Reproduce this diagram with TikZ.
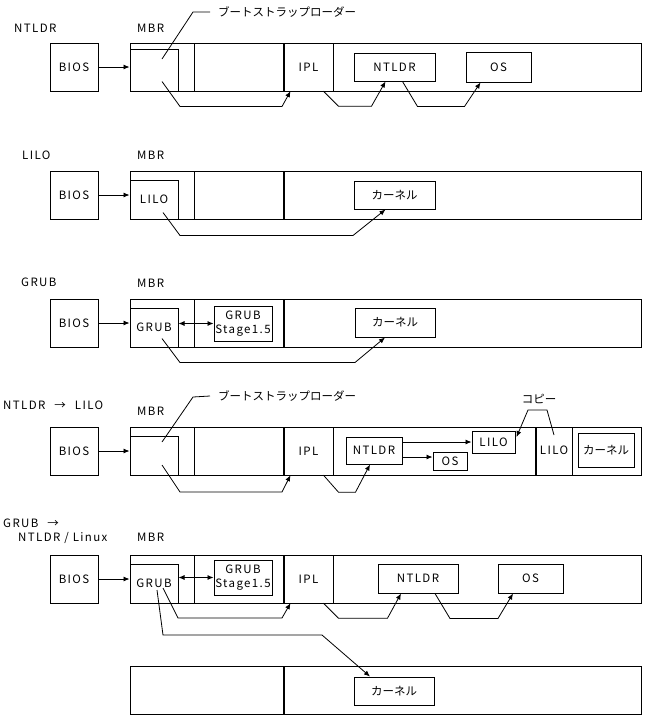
\documentclass[tikz,border=0pt]{standalone}
\usepackage{fontspec}
\setmainfont{Noto Sans CJK JP}[LetterSpace=12]
\newfontfamily\jpfont{Noto Sans CJK JP}
\usetikzlibrary{arrows.meta,positioning,calc}
\definecolor{Ink}{HTML}{000000}
\tikzset{
  box/.style={draw=Ink,line width=1pt,inner sep=0pt,text=Ink,align=center},
  biosbox/.style={box,minimum width=48pt,minimum height=48pt},
  diskbox/.style={box,minimum width=511pt,minimum height=48pt},
  innerbox/.style={box,minimum width=48pt,minimum height=39pt},
  stagebox/.style={box,minimum width=58pt,minimum height=35pt},
  iplslot/.style={inner sep=0pt,minimum width=49pt,minimum height=48pt,text=Ink},
  lbl/.style={anchor=west,inner sep=0pt,text=Ink},
  jp/.style={font=\jpfont\fontsize{11.5}{14}\selectfont},
  divider/.style={draw=Ink,line width=1pt},
  heavyDivider/.style={draw=Ink,line width=2.4pt},
  leader/.style={draw=Ink,line width=0.8pt},
  arrow/.style={-{Latex[length=6pt,width=5pt]},line width=0.8pt,draw=Ink},
  twoArrow/.style={{Latex[length=6pt,width=5pt]}-{Latex[length=6pt,width=5pt]},line width=0.8pt,draw=Ink}
}
\begin{document}
\begin{tikzpicture}[x=1pt,y=-1pt,font=\fontsize{11.5}{14}\selectfont]
\useasboundingbox (0,0) rectangle (651,721);
% NTLDR
\node[lbl] (t1) at (14,28) {NTLDR};
\node[lbl] (m1) at (137,28) {MBR};
\node[lbl,jp] (bsl1) at (218,12) {ブートストラップローダー};
\node[biosbox] (bios1) at (74,67) {BIOS};
\node[diskbox] (disk1) at (385.5,67) {};
\node[box,minimum width=48pt,minimum height=42pt] (boot1) at (154,70) {};
\draw[divider] (194,43)--(194,91);\draw[heavyDivider] (284,43)--(284,91);\draw[divider] (333,43)--(333,91);
\node[iplslot] (ipl1) at (308.5,67) {IPL};
\node[box,minimum width=81pt,minimum height=28pt] (ntldr1) at (394.5,67) {NTLDR};
\node[box,minimum width=65pt,minimum height=30pt] (os1) at (498.5,67) {OS};
\draw[arrow] (bios1)--(boot1.west |- bios1);
\draw[leader] ([xshift=8pt,yshift=11pt]boot1.center)--(193,12)--([xshift=-8pt]bsl1.west);
\draw[arrow] ([xshift=8pt,yshift=10pt]boot1.south)--++(18,25)--++(102,0)--([xshift=-18pt]ipl1.south);
\draw[arrow] ([xshift=15pt]ipl1.south)--++(15,15)--++(33,0)--([xshift=-9pt]ntldr1.south);
\draw[arrow] ([xshift=8pt]ntldr1.south)--++(15,25)--++(47,0)--([xshift=-18pt]os1.south);
% LILO
\node[lbl] (t2) at (22,155) {LILO};
\node[lbl] (m2) at (137,155) {MBR};
\node[biosbox] (bios2) at (74,195) {BIOS};
\node[diskbox] (disk2) at (385.5,195) {};
\node[innerbox] (lilo2) at (154,199.5) {LILO};
\draw[divider] (194,171)--(194,219);\draw[heavyDivider] (284,171)--(284,219);
\node[box,jp,minimum width=81pt,minimum height=28pt] (kern2) at (394.5,195) {カーネル};
\draw[arrow] (bios2)--(lilo2.west |- bios2);
\draw[arrow] ([xshift=9pt,yshift=7pt]lilo2.south)--++(17,23)--++(173,0)--([xshift=-9pt]kern2.south);
% GRUB
\node[lbl] (t3) at (21,282) {GRUB};
\node[lbl] (m3) at (137,283) {MBR};
\node[biosbox] (bios3) at (74,323) {BIOS};
\node[diskbox] (disk3) at (385.5,323) {};
\node[innerbox] (grub3) at (154,327.5) {GRUB};
\node[stagebox] (stage3) at (243,323.5) {GRUB\\Stage1.5};
\draw[divider] (194,299)--(194,347);\draw[heavyDivider] (284,299)--(284,347);
\node[box,jp,minimum width=80pt,minimum height=29pt] (kern3) at (395,322.5) {カーネル};
\draw[arrow] (bios3)--(grub3.west |- bios3);
\draw[twoArrow] (stage3.west -| grub3.east)--(stage3.west);
\draw[arrow] ([xshift=8pt,yshift=9pt]grub3.south)--++(18,24)--++(175,0)--([xshift=-10pt]kern3.south);
% NTLDR -> LILO
\node[lbl] (t4) at (3,405) {NTLDR\hspace{9pt}→\hspace{9pt}LILO};
\node[lbl] (m4) at (137,411) {MBR};
\node[lbl,jp] (bsl4) at (218,396) {ブートストラップローダー};
\node[biosbox] (bios4) at (74,451) {BIOS};
\node[diskbox] (disk4) at (385.5,451) {};
\node[innerbox] (boot4) at (154,455.5) {};
\draw[divider] (194,427)--(194,475);\draw[heavyDivider] (284,427)--(284,475);\draw[divider] (333,427)--(333,475);
\draw[heavyDivider] (536,427)--(536,475);\draw[divider] (572,427)--(572,475);
\node[iplslot] (ipl4) at (308.5,451) {IPL};
\node[box,minimum width=56pt,minimum height=27pt] (ntldr4) at (374,450.5) {NTLDR};
\node[box,minimum width=43pt,minimum height=22pt] (lilo4) at (493.5,442) {LILO};
\node[box,minimum width=34pt,minimum height=18pt] (os4) at (450,461) {OS};
\node[inner sep=0pt,text=Ink] (lilob4) at (554,450) {LILO};
\node[box,jp,minimum width=56pt,minimum height=34pt] (kern4) at (606,450) {カーネル};
\node[inner sep=0pt,text=Ink,jp] (copy4) at (539,399) {コピー};
\draw[arrow] (bios4)--(boot4.west |- bios4);
\draw[leader] ([xshift=8pt,yshift=13.5pt]boot4.center)--(193,397)--([xshift=-8pt]bsl4.west);
\draw[arrow] ([xshift=8pt,yshift=-9.5pt]boot4.center)--++(18,27)--++(102,0)--([xshift=-18pt]ipl4.south);
\draw[arrow] ([xshift=15pt]ipl4.south)--++(15,17)--++(17,0)--([xshift=-4pt]ntldr4.south);
\draw[arrow] (lilo4.west -| ntldr4.east)--(lilo4.west);
\draw[arrow] ([yshift=4pt]os4.west -| ntldr4.east)--([yshift=4pt]os4.west);
\draw[arrow] ([yshift=15pt]lilob4.center)--++(-7,-25)--++(-19,0)--([xshift=1pt,yshift=5pt]lilo4.east);
% GRUB -> NTLDR / Linux
\node[lbl] (t5) at (3,523) {GRUB\hspace{9pt}→};
\node[lbl] (t5b) at (18,538) {NTLDR / Linux};
\node[lbl] (m5) at (137,537) {MBR};
\node[biosbox] (bios5) at (74,579) {BIOS};
\node[diskbox] (disk5) at (385.5,579) {};
\node[innerbox] (grub5) at (154,583.5) {GRUB};
\node[stagebox] (stage5) at (243,577.5) {GRUB\\Stage1.5};
\draw[divider] (194,555)--(194,603);\draw[heavyDivider] (284,555)--(284,603);\draw[divider] (333,555)--(333,603);
\node[iplslot] (ipl5) at (308.5,579) {IPL};
\node[box,minimum width=80pt,minimum height=29pt] (ntldr5) at (418,578.5) {NTLDR};
\node[box,minimum width=65pt,minimum height=29pt] (os5) at (530.5,578.5) {OS};
\node[diskbox] (disk6) at (385.5,690) {};
\draw[heavyDivider] (284,666)--(284,714);
\node[box,jp,minimum width=80pt,minimum height=28pt] (kern6) at (394,691) {カーネル};
\draw[arrow] (bios5)--(grub5.west |- bios5);
\draw[twoArrow] (stage5.west -| grub5.east)--(stage5.west);
\draw[arrow] ([xshift=9pt,yshift=-4.5pt]grub5.center)--++(15,30)--++(104,0)--([xshift=-18pt]ipl5.south);
\draw[arrow] ([xshift=3pt,yshift=-6.5pt]grub5.center)--++(6,45)--++(159,0)--([xshift=-24pt]kern6.north);
\draw[arrow] ([xshift=15pt]ipl5.south)--++(15,15)--++(49,0)--([xshift=-17pt]ntldr5.south);
\draw[arrow] ([xshift=17pt]ntldr5.south)--++(15,25)--++(48,0)--([xshift=-17.5pt]os5.south);
\end{tikzpicture}
\end{document}
